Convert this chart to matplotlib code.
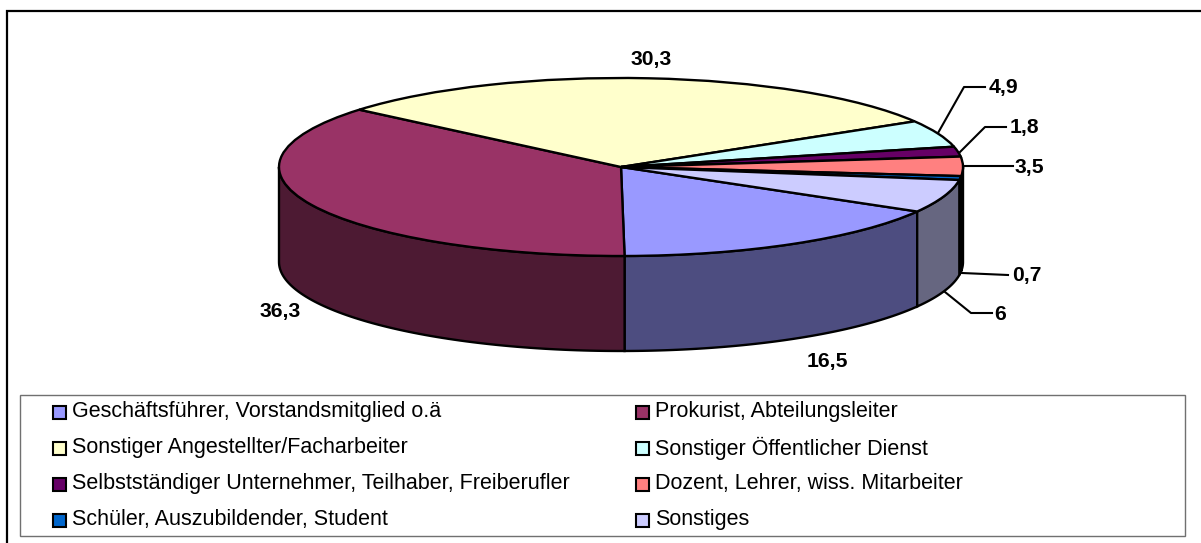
import matplotlib
matplotlib.use('Agg')
import matplotlib.pyplot as plt
import numpy as np
from matplotlib.patches import Rectangle

categories = ['Geschäftsführer, Vorstandsmitglied o.ä', 'Prokurist, Abteilungsleiter',
              'Sonstiger Angestellter/Facharbeiter', 'Sonstiger Öffentlicher Dienst',
              'Selbstständiger Unternehmer, Teilhaber, Freiberufler', 'Dozent, Lehrer, wiss. Mitarbeiter',
              'Schüler, Auszubildender, Student', 'Sonstiges']
values = [16.5, 36.3, 30.3, 4.9, 1.8, 3.5, 0.7, 6]
top_colors = ['#9999FF', '#993366', '#FFFFCC', '#CCFFFF', '#660066', '#FF8080', '#0066CC', '#CCCCFF']
side_colors = ['#4D4D80', '#4D1A33', '#808066', '#668080', '#330033', '#804040', '#003366', '#666680']

W, H = 1201, 543
CX, CY, RX, RY, DEPTH = 621, 167, 342, 89, 95
LW = 1.7

plt.rcParams['font.family'] = ['Liberation Sans', 'DejaVu Sans']

def main():
    fig = plt.figure(figsize=(W / 100, H / 100), dpi=100, facecolor='white')

    # pie axes: radius 1 is RX wide and RY high on screen
    ax = fig.add_axes([0, 0, 1, 1])
    wedges, _ = ax.pie(values, colors=top_colors, startangle=-30, counterclock=False,
                       wedgeprops={'edgecolor': 'black', 'linewidth': LW, 'zorder': 3})
    ax.set_aspect('auto')
    ax.set_xlim(-CX / RX, (W - CX) / RX)
    ax.set_ylim((CY - H) / RY, CY / RY)
    ax.axis('off')

    # rim of the pie, only the part facing the viewer
    depth = DEPTH / RY
    for wedge, col in zip(wedges, side_colors):
        for shift in (0, -360, 360):
            t1 = max(wedge.theta1 + shift, -180)
            t2 = min(wedge.theta2 + shift, 0)
            if t2 <= t1:
                continue
            t = np.radians(np.linspace(t1, t2, 80))
            xs = np.concatenate([np.cos(t), np.cos(t[::-1])])
            ys = np.concatenate([np.sin(t), np.sin(t[::-1]) - depth])
            ax.fill(xs, ys, facecolor=col, edgecolor='black', linewidth=LW, zorder=2)

    # overlay in pixel coords for frame, legend, labels
    ov = fig.add_axes([0, 0, 1, 1], facecolor='none')
    ov.set_xlim(0, W)
    ov.set_ylim(H, 0)
    ov.axis('off')

    ov.plot([7, 7, W + 5], [H + 5, 11, 11], color='black', lw=1.6, clip_on=False, solid_joinstyle='miter')
    ov.add_patch(Rectangle((19.5, 394.5), 1165, 141, facecolor='none', edgecolor='#707070', lw=1.0))

    # value labels and leader lines
    label_pos = [(827, 362), (280, 312), (651, 59), (1003, 88), (1024, 128), (1029, 168), (1027, 276), (1000, 314)]
    leaders = [None, None, None,
               [(938, 133), (964, 87), (985, 87)],
               [(960, 152), (985, 127), (1006, 127)],
               [(964, 166), (1013, 166)],
               [(962, 273), (1008, 275)],
               [(945, 292), (971, 313), (992, 313)]]
    for v, pos, lead in zip(values, label_pos, leaders):
        ov.text(pos[0], pos[1], '{:g}'.format(v).replace('.', ','), fontsize=15.2, fontweight='bold',
                ha='center', va='center')
        if lead:
            ov.plot(*zip(*lead), color='black', lw=1.5)

    # legend, filled row by row
    col_x = [53, 636]
    for i, (name, col) in enumerate(zip(categories, top_colors)):
        x = col_x[i % 2]
        y = 412 + 36 * (i // 2)
        ov.add_patch(Rectangle((x, y - 6.5), 13, 13, facecolor=col, edgecolor='black', lw=1.5))
        ov.text(x + 19, y, name, fontsize=15.5, ha='left', va='center')

    fig.savefig('out.png', dpi=100)

if __name__ == '__main__':
    main()
